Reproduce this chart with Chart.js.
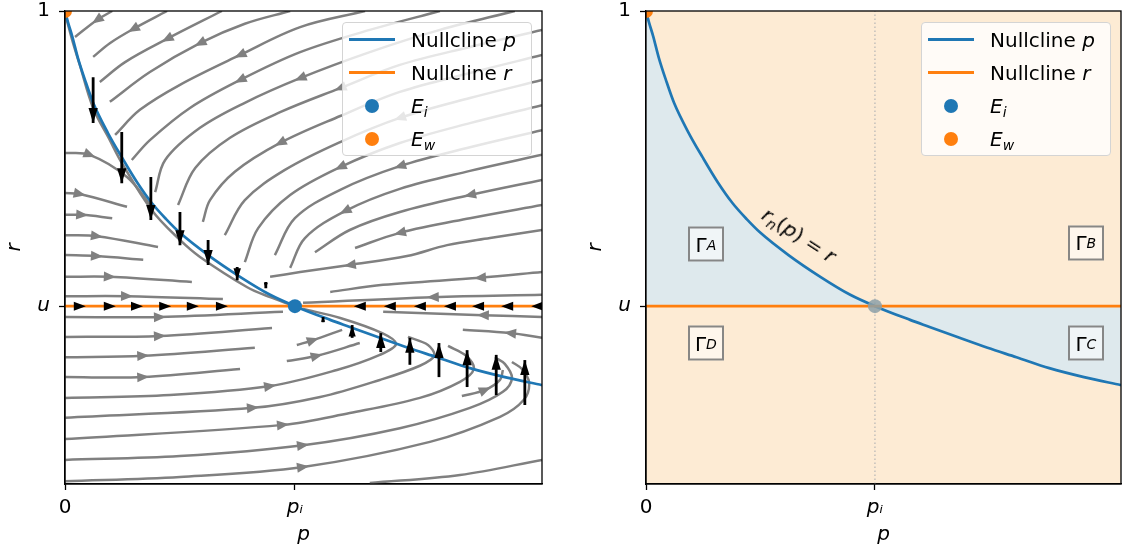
<!DOCTYPE html>
<html>
<head>
<meta charset="utf-8">
<script src="https://cdn.jsdelivr.net/npm/chart.js@4.4.1/dist/chart.umd.min.js"></script>
<style>
  body { margin: 0; background: #fff; }
  #fig { position: relative; width: 1122px; height: 552px; overflow: hidden; font-family: "DejaVu Sans", sans-serif; }
  .panel { position: absolute; top: 0; height: 552px; }
  .panel canvas { display: block; }
  .m sub { font-size: 70%; vertical-align: -0.28em; line-height: 0; }
  .legend {
    position: absolute; width: 188px; height: 132px;
    border: 1px solid #d4d4d4; border-radius: 4px;
    background: rgba(255, 255, 255, 0.8);
    font-size: 20px; color: #000;
  }
  .legend .row { height: 33px; display: flex; align-items: center; }
  .legend .hd { width: 46px; margin: 0 16px 0 6px; display: flex; justify-content: center; align-items: center; }
  .legend .ln { width: 46px; height: 3px; }
  .legend .dot { width: 14px; height: 14px; border-radius: 50%; }
  .gbox {
    position: absolute; width: 32px; height: 31px;
    border: 2px solid rgba(115, 115, 115, 0.85);
    background: rgba(255, 255, 255, 0.55);
    display: flex; align-items: center; justify-content: center;
    transform: translate(-50%, -50%);
    font-size: 20px; color: #000;
  }
  .curve-label {
    position: absolute; white-space: nowrap; font-size: 20px; color: #000;
    transform: translate(-50%, -50%) rotate(33deg);
  }
</style>
</head>
<body>
<div id="fig">
  <div class="panel" id="panelL" style="left:0;width:561px"><canvas id="cL" width="561" height="552"></canvas></div>
  <div class="panel" id="panelR" style="left:581px;width:541px"><canvas id="cR" width="541" height="552"></canvas></div>
</div>
<script>
// Phase plane (left) and region map (right).
// p on [0, 1] and r on [0, 1].

const P_I = 0.482;
const U_LEVEL = 0.376;

const X_TICKS = [0, P_I];
const X_TICK_LABELS = ["0", "p\u1D62"];
const Y_TICKS = [U_LEVEL, 1];
const Y_TICK_LABELS = ["u", "1"];

// p-nullcline r_n(p)
const NULL_P_X = [0, 0.006, 0.015, 0.027, 0.042, 0.059, 0.090, 0.119, 0.151, 0.182, 0.212, 0.241,
  0.300, 0.367, 0.430, 0.482, 0.556, 0.597, 0.660, 0.719, 0.780, 0.849, 0.922, 1.000];
const NULL_P_Y = [1.000, 0.977, 0.947, 0.901, 0.854, 0.806, 0.742, 0.691, 0.638, 0.594, 0.560, 0.531,
  0.484, 0.438, 0.400, 0.376, 0.347, 0.332, 0.309, 0.288, 0.268, 0.245, 0.226, 0.209];

const E_I = [P_I, U_LEVEL];
const E_W = [0, 1];

// streamlines, points in flow order: above the nullcline, coming in from top / right
const STREAMS_UPPER = [
  [[0.099, 1.000], [0.067, 0.981], [0.021, 0.945]],
  [[0.214, 1.000], [0.143, 0.962], [0.094, 0.932], [0.059, 0.903]],
  [[0.329, 1.000], [0.214, 0.941], [0.126, 0.892], [0.073, 0.850]],
  [[0.472, 1.000], [0.377, 0.973], [0.283, 0.932], [0.178, 0.871], [0.094, 0.808]],
  [[0.629, 1.000], [0.493, 0.966], [0.367, 0.907], [0.241, 0.844], [0.157, 0.791], [0.105, 0.738]],
  [[0.786, 1.000], [0.639, 0.960], [0.493, 0.913], [0.367, 0.854], [0.262, 0.795], [0.178, 0.727], [0.140, 0.685]],
  [[0.943, 1.000], [0.786, 0.960], [0.639, 0.913], [0.493, 0.858], [0.377, 0.806], [0.283, 0.753], [0.210, 0.685], [0.189, 0.617]],
  [[1, 0.960], [0.849, 0.924], [0.702, 0.886], [0.577, 0.837], [0.451, 0.786], [0.346, 0.732], [0.273, 0.668], [0.237, 0.590]],
  [[1, 0.907], [0.849, 0.869], [0.702, 0.829], [0.577, 0.778], [0.451, 0.721], [0.356, 0.660], [0.304, 0.600], [0.289, 0.554]],
  [[1, 0.854], [0.849, 0.816], [0.702, 0.774], [0.577, 0.723], [0.461, 0.664], [0.377, 0.600], [0.335, 0.526]],
  [[1, 0.801], [0.849, 0.763], [0.702, 0.721], [0.577, 0.670], [0.472, 0.611], [0.405, 0.541], [0.377, 0.469]],
  [[1, 0.748], [0.849, 0.712], [0.702, 0.672], [0.577, 0.622], [0.482, 0.562], [0.440, 0.484]],
  [[1, 0.696], [0.849, 0.662], [0.702, 0.624], [0.587, 0.577], [0.503, 0.520], [0.472, 0.457]],
  [[1, 0.643], [0.849, 0.611], [0.702, 0.575], [0.597, 0.537], [0.524, 0.490]],
  [[1, 0.590], [0.849, 0.562], [0.702, 0.531], [0.608, 0.499]],
  [[1, 0.537], [0.891, 0.520], [0.801, 0.505], [0.717, 0.482], [0.597, 0.463], [0.493, 0.448], [0.430, 0.438]],
  [[1, 0.448], [0.870, 0.436], [0.667, 0.421], [0.556, 0.406]],
  [[1, 0.400], [0.771, 0.395], [0.499, 0.383]],
  [[1, 0.353], [0.876, 0.357], [0.667, 0.364]],
  [[1, 0.309], [0.933, 0.319], [0.834, 0.326]],
];
const UPPER_ARROW_AT = [1, 1, 1, 2, 2, 3, 3, 3, 4, 2, 3, 2, 3, 1, 2, 4, 1, 1, 1, 1];

// left of the nullcline, above u, plus the trajectory hugging the nullcline
const STREAMS_LEFT = [
  [[0, 0.700], [0.052, 0.696], [0.130, 0.649], [0.182, 0.586]],
  [[0, 0.615], [0.031, 0.613], [0.130, 0.586]],
  [[0, 0.569], [0.036, 0.569], [0.099, 0.562]],
  [[0, 0.526], [0.067, 0.524], [0.195, 0.501]],
  [[0, 0.484], [0.067, 0.482], [0.164, 0.474]],
  [[0, 0.438], [0.094, 0.438], [0.266, 0.427]],
  [[0, 0.397], [0.130, 0.397], [0.331, 0.391]],
  [[0, 0.996], [0.015, 0.939], [0.031, 0.886], [0.059, 0.795], [0.094, 0.727], [0.119, 0.679],
   [0.182, 0.579], [0.241, 0.516], [0.283, 0.480], [0.382, 0.416], [0.430, 0.395], [0.476, 0.378]],
];
const LEFT_ARROW_AT = [1, 1, 1, 1, 1, 1, 1, -1];

// below u: rightward flow that turns back round the lower nullcline
const STREAMS_LOWER = [
  [[0, 0.353], [0.199, 0.353], [0.457, 0.364]],
  [[0, 0.311], [0.199, 0.313], [0.434, 0.330]],
  [[0, 0.268], [0.164, 0.271], [0.398, 0.288]],
  [[0, 0.226], [0.164, 0.226], [0.367, 0.243]],
  [[0, 0.182], [0.220, 0.188], [0.430, 0.207], [0.570, 0.241], [0.660, 0.273], [0.694, 0.296], [0.665, 0.319], [0.577, 0.351], [0.499, 0.370]],
  [[0, 0.140], [0.394, 0.161], [0.535, 0.184], [0.660, 0.220], [0.744, 0.250], [0.774, 0.271], [0.761, 0.294], [0.719, 0.311]],
  [[0, 0.095], [0.457, 0.125], [0.597, 0.150], [0.744, 0.182], [0.828, 0.216], [0.857, 0.243], [0.841, 0.271], [0.803, 0.292]],
  [[0, 0.051], [0.241, 0.059], [0.499, 0.082], [0.702, 0.118], [0.849, 0.161], [0.918, 0.195], [0.937, 0.224], [0.922, 0.254], [0.901, 0.268]],
  [[0, 0.006], [0.241, 0.015], [0.499, 0.036], [0.765, 0.089], [0.912, 0.142], [0.962, 0.178], [0.973, 0.214], [0.958, 0.243], [0.937, 0.258]],
  [[0.639, 0.002], [0.828, 0.019], [1, 0.051]],
  [[0.486, 0.294], [0.520, 0.304], [0.581, 0.326]],
  [[0.465, 0.260], [0.528, 0.271], [0.618, 0.298]],
  [[0.832, 0.186], [0.881, 0.199], [0.912, 0.220], [0.918, 0.241]],
];
const LOWER_ARROW_AT = [1, 1, 1, 1, 2, 1, 1, 2, 2, -1, 1, 1, 1];

// vertical field arrows sitting on the p-nullcline
const QUIVER_X = [0.059, 0.119, 0.180, 0.241, 0.300, 0.361, 0.421, 0.541, 0.602, 0.662, 0.723, 0.784, 0.843, 0.904, 0.964];
const QUIVER_FROM = [0.860, 0.744, 0.649, 0.575, 0.516, 0.459, 0.427, 0.342, 0.309, 0.279, 0.252, 0.226, 0.205, 0.188, 0.167];
const QUIVER_TO = [0.763, 0.636, 0.558, 0.505, 0.463, 0.431, 0.414, 0.353, 0.336, 0.319, 0.309, 0.298, 0.283, 0.273, 0.262];

// arrowheads along r = u
const U_ARROWS_RIGHTWARD = [0.031, 0.094, 0.151, 0.210, 0.268, 0.329];
const U_ARROWS_LEFTWARD = [0.618, 0.681, 0.744, 0.807, 0.866, 0.927, 0.990];

const REGION_NAMES = ["A", "B", "C", "D"];
const REGION_X = [0.126, 0.926, 0.926, 0.126];
const REGION_Y = [0.507, 0.510, 0.298, 0.298];
const CURVE_LABEL_AT = [0.322, 0.526];

const BLUE = "#1f77b4";
const ORANGE = "#ff7f0e";
const GRAY = "#808080";
const FONT = '"DejaVu Sans", "Liberation Sans", sans-serif';
const FS = 20;

const $ = (id) => document.getElementById(id);
const xy = (pairs) => pairs.map(([x, y]) => ({ x, y }));

function drawHead(ctx, x, y, ang, len, wid, atTip) {
  ctx.save();
  ctx.translate(x, y);
  ctx.rotate(ang);
  const front = atTip ? 0 : len / 2;
  const back = front - len;
  ctx.beginPath();
  ctx.moveTo(front, 0);
  ctx.lineTo(back, wid / 2);
  ctx.lineTo(back, -wid / 2);
  ctx.closePath();
  ctx.fill();
  ctx.restore();
}

// arrowheads, drawn right after their own dataset so layering follows `order`
const arrowPlugin = {
  id: "arrowheads",
  afterDatasetDraw(chart, args) {
    const ds = chart.data.datasets[args.index];
    const h = ds.head;
    if (!h) return;
    const pts = args.meta.data;
    const { ctx, chartArea: a } = chart;
    ctx.save();
    ctx.beginPath();
    ctx.rect(a.left, a.top, a.width, a.height);
    ctx.clip();
    ctx.fillStyle = h.color || ds.borderColor;
    if (h.mode === "mid" && h.at > 0) {
      const k = h.at;
      const p0 = pts[k - 1], p1 = pts[Math.min(k + 1, pts.length - 1)];
      drawHead(ctx, pts[k].x, pts[k].y, Math.atan2(p1.y - p0.y, p1.x - p0.x), 12, 10, false);
    } else if (h.mode === "tip") {
      const p0 = pts[0], p1 = pts[pts.length - 1];
      const L = Math.hypot(p1.x - p0.x, p1.y - p0.y);
      const len = Math.min(15, L * 0.9);
      drawHead(ctx, p1.x, p1.y, Math.atan2(p1.y - p0.y, p1.x - p0.x), len, Math.max(4, len * 0.62), true);
    } else if (h.mode === "each") {
      for (const p of pts) drawHead(ctx, p.x, p.y, h.angle, 12, 9, false);
    }
    ctx.restore();
  },
};

// plot background and the four spines
const framePlugin = {
  id: "frame",
  beforeDraw(chart, args, opts) {
    if (!opts.background) return;
    const { ctx, chartArea: a } = chart;
    ctx.save();
    ctx.fillStyle = opts.background;
    ctx.fillRect(a.left, a.top, a.width, a.height);
    ctx.restore();
  },
  afterDatasetsDraw(chart) {
    const { ctx, chartArea: a } = chart;
    ctx.save();
    ctx.strokeStyle = "#000";
    ctx.lineWidth = 1.3;
    ctx.strokeRect(a.left, a.top, a.width, a.height);
    ctx.restore();
  },
};

function tickFont(italicIndex) {
  return (c) => ({ family: FONT, size: FS, style: c.index === italicIndex ? "italic" : "normal" });
}

function buildScales() {
  return {
    x: {
      type: "linear", min: 0, max: 1,
      afterBuildTicks: (s) => { s.ticks = X_TICKS.map((v) => ({ value: v })); },
      afterFit: (s) => { s.height = 68; s.paddingLeft = 0; s.paddingRight = 0; },
      ticks: { autoSkip: false, maxRotation: 0, padding: 6, color: "#000", font: tickFont(1),
               callback: (v, i) => X_TICK_LABELS[i] },
      grid: { drawOnChartArea: false, tickLength: 6, tickWidth: 1.3, tickColor: "#000" },
      border: { color: "#000", width: 1.3 },
      title: { display: true, text: "p", color: "#000", font: { family: FONT, size: FS, style: "italic" },
               padding: { top: 0, bottom: 5 } },
    },
    y: {
      type: "linear", min: 0, max: 1,
      afterBuildTicks: (s) => { s.ticks = Y_TICKS.map((v) => ({ value: v })); },
      afterFit: (s) => { s.width = 65; s.paddingTop = 0; s.paddingBottom = 0; },
      ticks: { autoSkip: false, padding: 9, color: "#000", font: tickFont(0),
               callback: (v, i) => Y_TICK_LABELS[i] },
      grid: { drawOnChartArea: false, tickLength: 6, tickWidth: 1.3, tickColor: "#000" },
      border: { color: "#000", width: 1.3 },
      title: { display: true, text: "r", color: "#000", font: { family: FONT, size: FS, style: "italic" },
               padding: { top: 3, bottom: 0 } },
    },
  };
}

function lineSet(data, color, width, order, extra) {
  return Object.assign({
    data, borderColor: color, backgroundColor: color, borderWidth: width,
    showLine: true, pointRadius: 0, fill: false, clip: 0, order,
  }, extra || {});
}

function dotSet(pt, color, order) {
  return {
    data: [{ x: pt[0], y: pt[1] }], showLine: false, pointRadius: 7, pointBorderWidth: 0,
    pointBackgroundColor: color, borderColor: color, clip: 0, order,
  };
}

function streamSets(lines, arrowAt) {
  return lines.map((ln, i) => lineSet(xy(ln), GRAY, 2.5, 10, {
    tension: 0.35,
    head: { mode: "mid", at: arrowAt[i] },
  }));
}

function makeChart(canvas, datasets, padRight, background) {
  return new Chart(canvas, {
    type: "scatter",
    data: { datasets },
    options: {
      responsive: false,
      animation: false,
      events: [],
      layout: { autoPadding: false, padding: { left: 0, right: padRight, top: 11, bottom: 0 } },
      scales: buildScales(),
      plugins: { legend: { display: false }, tooltip: { enabled: false }, frame: { background } },
    },
    plugins: [framePlugin, arrowPlugin],
  });
}

const LEGEND_ROWS = [
  { kind: "ln", color: BLUE, html: 'Nullcline <i>p</i>' },
  { kind: "ln", color: ORANGE, html: 'Nullcline <i>r</i>' },
  { kind: "dot", color: BLUE, html: '<i>E</i><sub><i>i</i></sub>' },
  { kind: "dot", color: ORANGE, html: '<i>E</i><sub><i>w</i></sub>' },
];

function addLegend(panel, chart) {
  const a = chart.chartArea;
  const box = document.createElement("div");
  box.className = "legend m";
  box.style.left = (a.right - 10 - 190) + "px";
  box.style.top = (a.top + 11) + "px";
  box.innerHTML = LEGEND_ROWS.map((r) =>
    `<div class="row"><span class="hd"><span class="${r.kind}" style="background:${r.color}"></span></span><span>${r.html}</span></div>`
  ).join("");
  panel.appendChild(box);
}

function placeAt(el, chart, x, y) {
  el.style.left = chart.scales.x.getPixelForValue(x) + "px";
  el.style.top = chart.scales.y.getPixelForValue(y) + "px";
}

// ---------- left: phase portrait ----------
const nullP = NULL_P_X.map((x, i) => ({ x, y: NULL_P_Y[i] }));
const uLine = [{ x: 0, y: U_LEVEL }, { x: 1, y: U_LEVEL }];

const quiverSets = QUIVER_X.map((x, i) => lineSet(
  [{ x, y: QUIVER_FROM[i] }, { x, y: QUIVER_TO[i] }], "#000", 2.8, 2,
  { head: { mode: "tip" }, borderCapStyle: "butt" }
));

const leftSets = [
  dotSet(E_W, ORANGE, 0),
  dotSet(E_I, BLUE, 0),
  lineSet(U_ARROWS_RIGHTWARD.map((x) => ({ x, y: U_LEVEL })), "#000", 0, 1,
          { showLine: false, head: { mode: "each", angle: 0 } }),
  lineSet(U_ARROWS_LEFTWARD.map((x) => ({ x, y: U_LEVEL })), "#000", 0, 1,
          { showLine: false, head: { mode: "each", angle: Math.PI } }),
  ...quiverSets,
  lineSet(nullP, BLUE, 2.7, 3, { cubicInterpolationMode: "monotone" }),
  lineSet(uLine, ORANGE, 2.7, 4),
  ...streamSets(STREAMS_UPPER, UPPER_ARROW_AT),
  ...streamSets(STREAMS_LEFT, LEFT_ARROW_AT),
  ...streamSets(STREAMS_LOWER, LOWER_ARROW_AT),
];

const chartL = makeChart($("cL"), leftSets, 19, null);
addLegend($("panelL"), chartL);

// ---------- right: regions ----------
const rightSets = [
  dotSet(E_W, ORANGE, 0),
  dotSet(E_I, "rgba(140,160,168,0.85)", 0),
  lineSet(uLine, ORANGE, 2.7, 2),
  lineSet(nullP, BLUE, 2.7, 3, {
    cubicInterpolationMode: "monotone",
    fill: { value: U_LEVEL }, backgroundColor: "#dee9ed",
  }),
  lineSet([{ x: P_I, y: 0 }, { x: P_I, y: 1 }], "#b4b4b4", 1.2, 4, { borderDash: [1.5, 2.5] }),
];

const chartR = makeChart($("cR"), rightSets, 1, "#fdebd4");
addLegend($("panelR"), chartR);

REGION_NAMES.forEach((name, i) => {
  const el = document.createElement("div");
  el.className = "gbox m";
  el.innerHTML = `\u0393<sub><i>${name}</i></sub>`;
  placeAt(el, chartR, REGION_X[i], REGION_Y[i]);
  $("panelR").appendChild(el);
});

const curveLabel = document.createElement("div");
curveLabel.className = "curve-label m";
curveLabel.innerHTML = "<i>r</i><sub><i>n</i></sub>(<i>p</i>) = <i>r</i>";
placeAt(curveLabel, chartR, CURVE_LABEL_AT[0], CURVE_LABEL_AT[1]);
$("panelR").appendChild(curveLabel);
</script>
</body>
</html>
